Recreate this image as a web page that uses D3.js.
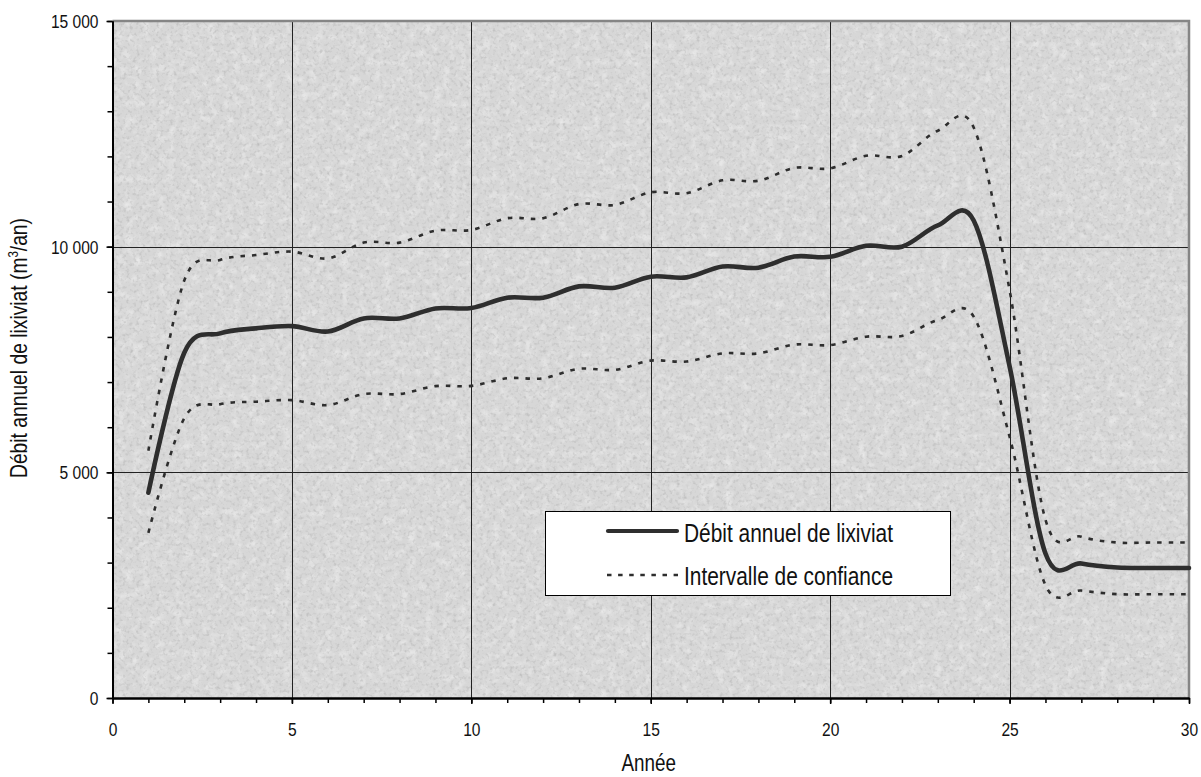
<!DOCTYPE html>
<html lang="fr">
<head>
<meta charset="utf-8">
<script src="https://cdn.jsdelivr.net/npm/d3@7"></script>
<style>
  html, body { margin: 0; padding: 0; background: #fff; }
  svg { display: block; }
  .lbl { font-family: "Liberation Sans", Arial, sans-serif; fill: #111; }
</style>
</head>
<body>
<svg id="chart" width="1201" height="777"></svg>
<script>
// Années (abscisse) et débits annuels de lixiviat (m3/an)
const years = d3.range(1, 31);
const debit = [4550, 7650, 8080, 8190, 8240, 8120, 8410, 8410, 8630, 8640,
               8870, 8870, 9120, 9090, 9335, 9320, 9560, 9535, 9780, 9775,
               10020, 10000, 10470, 10580, 7350, 3200, 2980, 2890, 2880, 2880];
const borneHaute = [5480, 9250, 9705, 9815, 9890, 9740, 10090, 10090, 10355, 10370,
                    10630, 10630, 10945, 10925, 11205, 11185, 11470, 11460, 11745, 11735,
                    12015, 12010, 12570, 12640, 9040, 3950, 3575, 3445, 3445, 3445];
const borneBasse = [3660, 6200, 6510, 6565, 6600, 6490, 6735, 6735, 6910, 6915,
                    7085, 7085, 7295, 7270, 7475, 7455, 7635, 7635, 7830, 7820,
                    8005, 8020, 8375, 8450, 5790, 2500, 2380, 2300, 2300, 2300];

const xTicks = [0, 5, 10, 15, 20, 25, 30];
const yTicks = [0, 5000, 10000, 15000];
const xLabel = "Année";
const yLabel = "Débit annuel de lixiviat (m";
const legendLabels = ["Débit annuel de lixiviat", "Intervalle de confiance"];

const W = 1201, H = 777;
const margin = { top: 21, right: 12, bottom: 79, left: 112.5 };
const svg = d3.select("#chart");

const x = d3.scaleLinear().domain([0, 30]).range([margin.left, W - margin.right]);
const y = d3.scaleLinear().domain([0, 15000]).range([H - margin.bottom, margin.top]);

const fr = d3.formatLocale({ decimal: ",", thousands: " ", grouping: [3], currency: ["", " €"] });
const fmt = fr.format(",d");

// Police étroite : compression horizontale du texte
const K = 0.82;
function narrow(sel) {
  sel.each(function () {
    const t = d3.select(this);
    const xv = +t.attr("x") || 0;
    t.attr("x", xv / K).attr("transform", `scale(${K},1)`);
  });
}

// Fond texturé de la zone de tracé
const defs = svg.append("defs");
const grain = defs.append("filter").attr("id", "grain")
  .attr("x", 0).attr("y", 0).attr("width", "100%").attr("height", "100%");
grain.append("feTurbulence").attr("type", "fractalNoise")
  .attr("baseFrequency", 0.3).attr("numOctaves", 2).attr("seed", 7);
grain.append("feColorMatrix").attr("type", "matrix")
  .attr("values", "0 0 0 0 0.4  0 0 0 0 0.4  0 0 0 0 0.4  1.3 0 0 0 -0.66");
const mottle = defs.append("filter").attr("id", "mottle")
  .attr("x", 0).attr("y", 0).attr("width", "100%").attr("height", "100%");
mottle.append("feTurbulence").attr("type", "fractalNoise")
  .attr("baseFrequency", 0.12).attr("numOctaves", 3).attr("seed", 2);
mottle.append("feColorMatrix").attr("type", "matrix")
  .attr("values", "0 0 0 0 1  0 0 0 0 1  0 0 0 0 1  -0.9 0 0 0 0.5");

const pw = x(30) - x(0), ph = y(0) - y(15000);
svg.append("rect").attr("x", x(0)).attr("y", y(15000)).attr("width", pw).attr("height", ph)
  .attr("fill", "#d7d7d7");
svg.append("rect").attr("x", x(0)).attr("y", y(15000)).attr("width", pw).attr("height", ph)
  .attr("filter", "url(#mottle)");
svg.append("rect").attr("x", x(0)).attr("y", y(15000)).attr("width", pw).attr("height", ph)
  .attr("filter", "url(#grain)");

// Quadrillage principal
const grid = svg.append("g").attr("stroke", "#222").attr("stroke-width", 1);
grid.selectAll("line.v").data(xTicks.filter(d => d > 0 && d < 30)).join("line")
  .attr("class", "v")
  .attr("x1", d => Math.round(x(d)) + 0.5).attr("x2", d => Math.round(x(d)) + 0.5)
  .attr("y1", y(15000)).attr("y2", y(0));
grid.selectAll("line.h").data(yTicks.filter(d => d > 0 && d < 15000)).join("line")
  .attr("class", "h")
  .attr("y1", d => Math.round(y(d)) + 0.5).attr("y2", d => Math.round(y(d)) + 0.5)
  .attr("x1", x(0)).attr("x2", x(30));

// Bordure grise haut / droite
svg.append("path")
  .attr("d", `M${x(0)},${y(15000)}H${x(30)}V${y(0)}`)
  .attr("fill", "none").attr("stroke", "#858585").attr("stroke-width", 2.5);

// Courbes lissées
const line = d3.line()
  .x((d, i) => x(years[i]))
  .y(d => y(d))
  .curve(d3.curveCatmullRom.alpha(0));

const ink = "#2e2e2e";
[borneHaute, borneBasse].forEach(s => {
  svg.append("path").datum(s).attr("d", line)
    .attr("fill", "none").attr("stroke", ink).attr("stroke-width", 2.6)
    .attr("stroke-dasharray", "4.5 7");
});
svg.append("path").datum(debit).attr("d", line)
  .attr("fill", "none").attr("stroke", ink).attr("stroke-width", 4.6)
  .attr("stroke-linecap", "round").attr("stroke-linejoin", "round");

// Axes : graduations secondaires puis principales
const minorX = svg.append("g").attr("transform", `translate(0,${y(0)})`)
  .call(d3.axisBottom(x).tickValues(d3.range(0, 31)).tickSize(5).tickSizeOuter(0).tickFormat(""));
const minorY = svg.append("g").attr("transform", `translate(${x(0)},0)`)
  .call(d3.axisLeft(y).tickValues(d3.range(0, 15001, 1000)).tickSize(5).tickSizeOuter(0).tickFormat(""));

const xAxis = svg.append("g").attr("transform", `translate(0,${y(0)})`)
  .call(d3.axisBottom(x).tickValues(xTicks).tickSize(6).tickSizeOuter(0).tickPadding(19).tickFormat(d3.format("d")));
const yAxis = svg.append("g").attr("transform", `translate(${x(0)},0)`)
  .call(d3.axisLeft(y).tickValues(yTicks).tickSize(6).tickSizeOuter(0).tickPadding(8).tickFormat(fmt));

[minorX, minorY, xAxis, yAxis].forEach(g => {
  g.selectAll("line").attr("stroke", "#000").attr("stroke-width", 1.5);
  g.select(".domain").attr("stroke", "#000").attr("stroke-width", 2);
  g.selectAll("text").attr("class", "lbl").attr("font-size", 19).attr("fill", "#111");
});
yAxis.selectAll("text").attr("dy", "0.34em");
narrow(xAxis.selectAll("text"));
narrow(yAxis.selectAll("text"));

// Titres des axes
const xt = svg.append("text").attr("class", "lbl")
  .attr("x", (x(0) + x(30)) / 2 - 2).attr("y", 771)
  .attr("text-anchor", "middle").attr("font-size", 23)
  .text(xLabel);
narrow(xt);

const yt = svg.append("text").attr("class", "lbl")
  .attr("transform", `translate(27,348) rotate(-90) scale(${K},1)`)
  .attr("text-anchor", "middle").attr("font-size", 23.5);
yt.append("tspan").text(yLabel);
yt.append("tspan").attr("font-size", 14).attr("dy", -9).text("3");
yt.append("tspan").attr("dy", 9).text("/an)");

// Légende
const lg = svg.append("g");
lg.append("rect").attr("x", 545.5).attr("y", 511.5).attr("width", 405).attr("height", 84)
  .attr("fill", "#fff").attr("stroke", "#000").attr("stroke-width", 1);
lg.append("line").attr("x1", 608).attr("x2", 677).attr("y1", 531).attr("y2", 531)
  .attr("stroke", ink).attr("stroke-width", 4.2).attr("stroke-linecap", "round");
lg.append("line").attr("x1", 607).attr("x2", 678).attr("y1", 575).attr("y2", 575)
  .attr("stroke", ink).attr("stroke-width", 2.6).attr("stroke-dasharray", "4.5 6.6");
const lt = lg.selectAll("text.leg").data(legendLabels).join("text")
  .attr("class", "lbl leg")
  .attr("x", 684).attr("y", (d, i) => 542 + i * 43.5)
  .attr("font-size", 25.5)
  .text(d => d);
narrow(lt);
</script>
</body>
</html>
